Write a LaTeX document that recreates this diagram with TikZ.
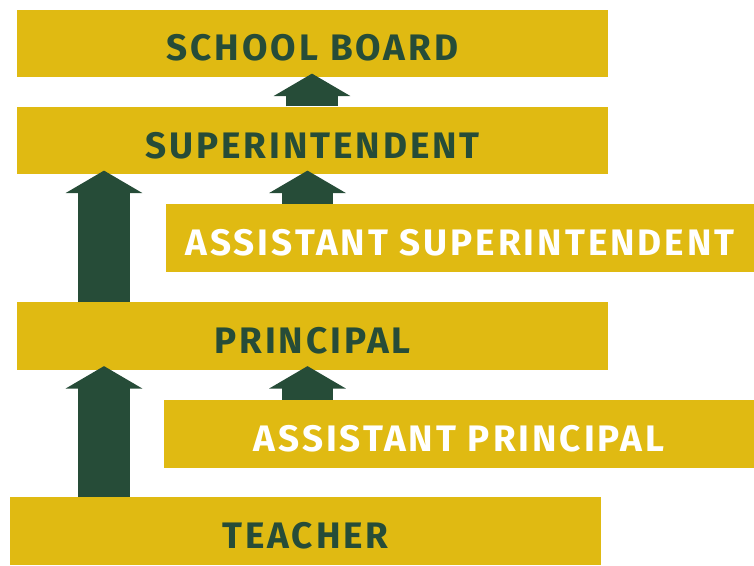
\documentclass[tikz,border=0pt]{standalone}
\usepackage{fontspec}
\setmainfont{Fira Sans}
\newfontfamily\chalkfont[LetterSpace=8]{Fira Sans}
\usetikzlibrary{calc,arrows.meta}
\definecolor{barYellow}{RGB}{224,186,18}
\definecolor{chalkGreen}{RGB}{38,76,56}
\tikzset{
	bar/.style={fill=barYellow, text=chalkGreen, inner sep=0pt, minimum width=11.82cm, minimum height=1.35cm,
		font=\chalkfont\fontsize{21}{21}\selectfont\bfseries, text height=0.7cm, text depth=0pt},
	upArrow/.style={draw=chalkGreen, line width=1.03cm, -{Triangle[width=1.52cm,length=0.45cm]}}
}

\begin{document}
\begin{tikzpicture}[x=0.02cm, y=-0.02cm]
			%%%%% START %%%%%
			\useasboundingbox (0, 0) rectangle (754, 565);
			
			\node[bar] (board) at (312.5, 43.5) {SCHOOL BOARD};
			\node[bar] (super) at (312.5, 140.5) {SUPERINTENDENT};
			\node[bar, minimum width=11.76cm, text=white] (asuper) at (460, 238) {ASSISTANT SUPERINTENDENT};
			\node[bar] (princ) at (312.5, 336) {PRINCIPAL};
			\node[bar, minimum width=11.8cm, text=white] (aprinc) at (459, 434) {ASSISTANT PRINCIPAL};
			\node[bar] (teach) at (305.5, 531) {TEACHER};
			
			\coordinate (left) at (104, 0);
			\coordinate (top) at (312, 0);
			\coordinate (right) at (307.5, 0);
			
			\draw[upArrow] (super.north -| top) -- ($(board.south -| top)+(0, -4)$);
			\draw[upArrow] (asuper.north -| right) -- ($(super.south -| right)+(0, -4)$);
			\draw[upArrow] (princ.north -| left) -- ($(super.south -| left)+(0, -4)$);
			\draw[upArrow] (aprinc.north -| right) -- ($(princ.south -| right)+(0, -4)$);
			\draw[upArrow] (teach.north -| left) -- ($(princ.south -| left)+(0, -4)$);
			%%%%% END %%%%%
		\end{tikzpicture}
\end{document}
